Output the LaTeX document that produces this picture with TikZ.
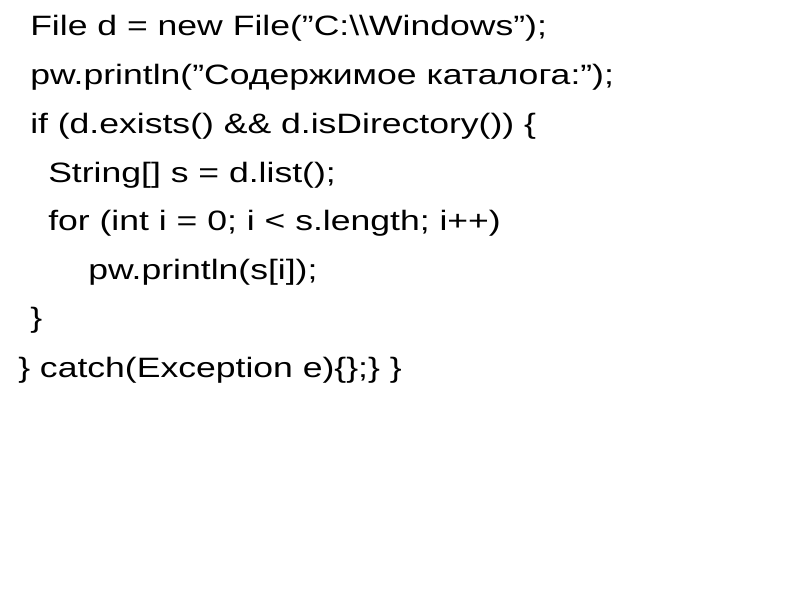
\documentclass[tikz,border=0pt]{standalone}
\usepackage{fontspec}
\setmainfont{Liberation Sans}
\newcommand\qq{\symbol{34}}
\begin{document}
\begin{tikzpicture}[x=1pt,y=1pt,t/.style={anchor=base west,inner sep=0pt,xscale=1.27,font=\fontsize{28}{32}\selectfont}]
\useasboundingbox (0,0) rectangle (800,600);
\node[t] (l1) at (30,564) {File d = new File(\qq C:\textbackslash\textbackslash Windows\qq);};
\node[t] (l2) at (30,515) {pw.println(\qq Содержимое каталога:\qq);};
\node[t] (l3) at (30,466) {if (d.exists() \&\& d.isDirectory()) \{};
\node[t] (l4) at (48,417) {String[] s = d.list();};
\node[t] (l5) at (48,369) {for (int i = 0; i < s.length; i++)};
\node[t] (l6) at (88,320) {pw.println(s[i]);};
\node[t] (l7) at (30,272) {\}};
\node[t] (l8) at (18,222) {\} catch(Exception e)\{\};\} \}};
\end{tikzpicture}
\end{document}
